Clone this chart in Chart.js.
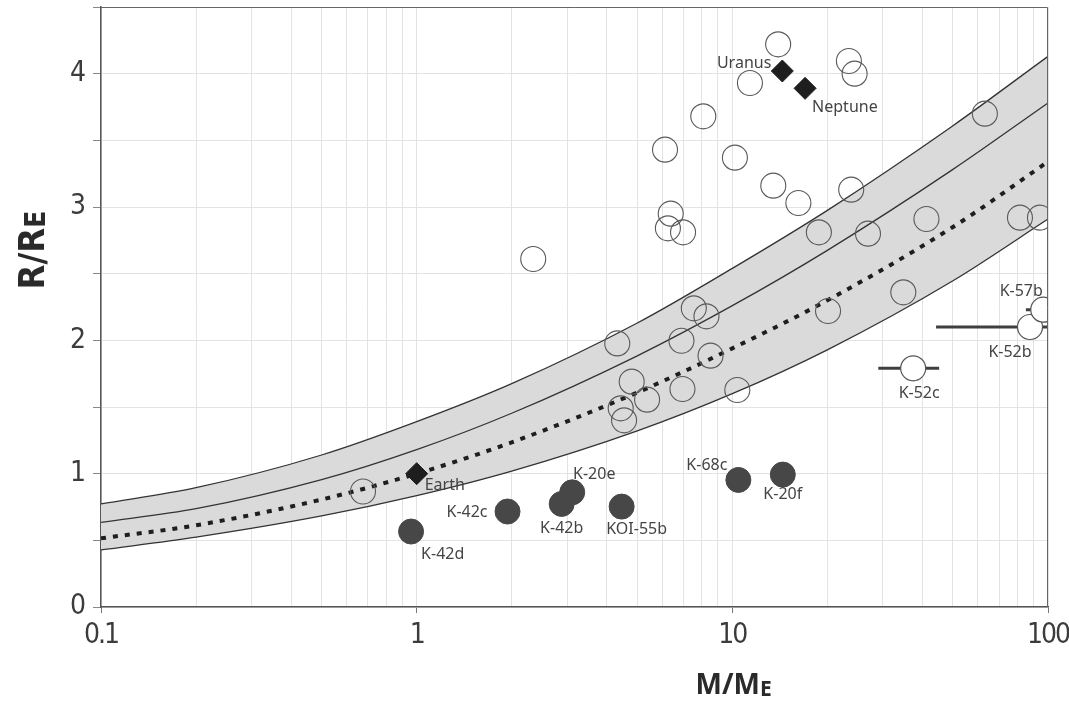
<!DOCTYPE html>
<html>
<head>
<meta charset="utf-8">
<script src="https://cdn.jsdelivr.net/npm/chart.js@4.4.0/dist/chart.umd.min.js"></script>
<style>
  body { margin: 0; background: #fff; }
  #wrap { width: 1069px; height: 705px; }
</style>
</head>
<body>
<div id="wrap"><canvas id="chart"></canvas></div>
<script>
// composition curves (R/RE against M/ME)
const curveMass = [0.1, 0.2, 0.5, 1, 2, 5, 10, 20, 50, 100];
const upperRadius = [0.773, 0.895, 1.14, 1.39, 1.675, 2.13, 2.54, 2.975, 3.61, 4.13];
const middleRadius = [0.635, 0.737, 0.955, 1.18, 1.453, 1.884, 2.26, 2.675, 3.282, 3.78];
const earthLikeRadius = [0.515, 0.613, 0.806, 1.0, 1.235, 1.609, 1.94, 2.30, 2.85, 3.34];
const lowerRadius = [0.428, 0.524, 0.683, 0.835, 1.019, 1.321, 1.60, 1.929, 2.447, 2.91];

// other exoplanets (open circles)
const openMass = [0.676, 2.34, 6.12, 6.38, 6.25, 6.98, 7.55, 8.28, 4.32, 6.90, 8.53, 4.80,
  5.37, 6.95, 10.37, 4.43, 4.54, 13.97, 11.37, 23.4, 24.4, 8.09, 10.19, 13.48, 16.19, 23.8,
  63.1, 18.8, 26.9, 41.2, 81.5, 94.3, 34.8, 20.1];
const openRadius = [0.866, 2.61, 3.43, 2.95, 2.84, 2.81, 2.24, 2.18, 1.977, 1.997, 1.885, 1.69,
  1.555, 1.635, 1.628, 1.49, 1.40, 4.22, 3.93, 4.095, 4.0, 3.68, 3.37, 3.16, 3.03, 3.13,
  3.70, 2.81, 2.80, 2.91, 2.92, 2.92, 2.36, 2.22];

// small Kepler planets (filled circles)
const smallNames = ['K-42d', 'K-42c', 'K-42b', 'K-20e', 'KOI-55b', 'K-68c', 'K-20f'];
const smallMass = [0.96, 1.94, 2.88, 3.11, 4.46, 10.45, 14.45];
const smallRadius = [0.566, 0.716, 0.773, 0.86, 0.753, 0.953, 0.993];

// solar system planets (diamonds)
const solarNames = ['Earth', 'Uranus', 'Neptune'];
const solarMass = [1.0, 14.4, 17.0];
const solarRadius = [1.0, 4.02, 3.89];

// planets with mass error bars
const errNames = ['K-52c', 'K-52b', 'K-57b'];
const errMass = [37.4, 87.7, 96.6];
const errRadius = [1.79, 2.10, 2.23];
const errMassLow = [29.0, 44.2, 85.1];
const errMassHigh = [45.2, 130, 130];

// axis ticks
const xTickLabels = ['0.1', '1', '10', '100'];
const xDecades = [0.1, 1, 10];
const xSignificands = [1, 2, 3, 4, 5, 6, 7, 8, 9];

// label placement: [dx, dy, align]
const labelPlace = {
  'K-42d': [10, 23, 'left'], 'K-42c': [-20, 1, 'right'], 'K-42b': [0, 25, 'center'],
  'K-20e': [22, -18, 'center'], 'KOI-55b': [15, 23, 'center'], 'K-68c': [-11, -14, 'right'],
  'K-20f': [0, 20, 'center'], 'Earth': [8, 12, 'left'], 'Uranus': [-11, -8, 'right'],
  'Neptune': [7, 19, 'left'], 'K-52c': [6, 25, 'center'], 'K-52b': [-20, 25, 'center'],
  'K-57b': [-22, -18, 'center']
};

const xGrid = [];
xDecades.forEach(function (d) {
  xSignificands.forEach(function (s) { xGrid.push(+(d * s).toPrecision(3)); });
});
xGrid.push(100);

function pts(xs, ys) {
  return xs.map(function (x, i) { return {x: x, y: ys[i]}; });
}

const tickFont = {family: '"Liberation Sans Narrow", "DejaVu Sans Condensed", sans-serif', size: 28};

// tighten the tick digits a little (the original uses a condensed face)
const tightTicks = {
  id: 'tightTicks',
  beforeDraw(chart) { chart.ctx.letterSpacing = '-2px'; },
  beforeDatasetsDraw(chart) { chart.ctx.letterSpacing = '0px'; }
};

const errorBars = {
  id: 'errorBars',
  beforeDatasetsDraw(chart) {
    const {ctx, chartArea: a, scales: {x, y}} = chart;
    ctx.save();
    ctx.beginPath();
    ctx.rect(a.left, a.top, a.right - a.left, a.bottom - a.top);
    ctx.clip();
    ctx.strokeStyle = '#3f3f3f';
    ctx.lineWidth = 3;
    errNames.forEach(function (n, i) {
      const py = y.getPixelForValue(errRadius[i]);
      ctx.beginPath();
      ctx.moveTo(x.getPixelForValue(errMassLow[i]), py);
      ctx.lineTo(x.getPixelForValue(errMassHigh[i]), py);
      ctx.stroke();
    });
    ctx.restore();
  }
};

const pointLabels = {
  id: 'pointLabels',
  afterDatasetsDraw(chart) {
    const {ctx, scales: {x, y}} = chart;
    ctx.save();
    ctx.font = '16px "Noto Sans", sans-serif';
    ctx.fillStyle = '#444';
    ctx.textBaseline = 'middle';
    function put(name, mx, ry) {
      const p = labelPlace[name];
      ctx.textAlign = p[2];
      ctx.fillText(name, x.getPixelForValue(mx) + p[0], y.getPixelForValue(ry) + p[1]);
    }
    smallNames.forEach(function (n, i) { put(n, smallMass[i], smallRadius[i]); });
    solarNames.forEach(function (n, i) { put(n, solarMass[i], solarRadius[i]); });
    errNames.forEach(function (n, i) { put(n, errMass[i], errRadius[i]); });
    ctx.restore();
  }
};

const frameAndTitles = {
  id: 'frameAndTitles',
  afterDraw(chart) {
    const {ctx, chartArea: a} = chart;
    ctx.save();
    ctx.letterSpacing = '0px';
    ctx.strokeStyle = '#666';
    ctx.lineWidth = 1;
    ctx.beginPath();
    ctx.moveTo(a.left, a.top + 0.5);
    ctx.lineTo(a.right - 0.5, a.top + 0.5);
    ctx.lineTo(a.right - 0.5, a.bottom);
    ctx.stroke();

    ctx.fillStyle = '#2a2a2a';
    ctx.textBaseline = 'alphabetic';
    ctx.textAlign = 'left';
    // x title
    ctx.font = 'bold 28px "Open Sans", sans-serif';
    const w1 = ctx.measureText('M/M').width;
    ctx.font = 'bold 21px "Open Sans", sans-serif';
    const w2 = ctx.measureText('E').width;
    const x0 = a.left + (a.right - a.left) * 0.668 - (w1 + w2) / 2;
    const base = a.bottom + 87;
    ctx.font = 'bold 28px "Open Sans", sans-serif';
    ctx.fillText('M/M', x0, base);
    ctx.font = 'bold 21px "Open Sans", sans-serif';
    ctx.fillText('E', x0 + w1, base + 2);
    // y title
    ctx.translate(a.left - 57, a.top + (a.bottom - a.top) * 0.405);
    ctx.rotate(-Math.PI / 2);
    ctx.font = 'bold 36px "Liberation Sans Narrow", "DejaVu Sans Condensed", sans-serif';
    const v1 = ctx.measureText('R/R').width;
    ctx.font = 'bold 28px "Liberation Sans Narrow", "DejaVu Sans Condensed", sans-serif';
    const v2 = ctx.measureText('E').width;
    ctx.font = 'bold 36px "Liberation Sans Narrow", "DejaVu Sans Condensed", sans-serif';
    ctx.fillText('R/R', -(v1 + v2) / 2, 0);
    ctx.font = 'bold 28px "Liberation Sans Narrow", "DejaVu Sans Condensed", sans-serif';
    ctx.fillText('E', -(v1 + v2) / 2 + v1, 1);
    ctx.restore();
  }
};

const curveStyle = {
  type: 'line', showLine: true, pointRadius: 0, pointHoverRadius: 0,
  cubicInterpolationMode: 'monotone', borderColor: '#333', borderWidth: 1.3
};
const dotStyle = {
  type: 'line', showLine: false, clip: 0
};

const config = {
  type: 'line',
  data: {
    datasets: [
      Object.assign({}, dotStyle, {
        label: 'with mass errors', data: pts(errMass, errRadius),
        pointRadius: 12.5, pointHoverRadius: 12.5, pointBorderWidth: 1.2,
        pointBorderColor: '#555', pointBackgroundColor: '#fff'
      }),
      Object.assign({}, dotStyle, {
        label: 'exoplanets', data: pts(openMass, openRadius),
        pointRadius: 12.5, pointHoverRadius: 12.5, pointBorderWidth: 1.1,
        pointBorderColor: '#5a5a5a', pointBackgroundColor: 'rgba(0,0,0,0)'
      }),
      Object.assign({}, dotStyle, {
        label: 'small Kepler planets', data: pts(smallMass, smallRadius),
        pointRadius: 12.5, pointHoverRadius: 12.5, pointBorderWidth: 1,
        pointBorderColor: '#474747', pointBackgroundColor: '#474747'
      }),
      Object.assign({}, dotStyle, {
        label: 'solar system', data: pts(solarMass, solarRadius),
        pointStyle: 'rectRot', pointRadius: 11, pointHoverRadius: 11, pointBorderWidth: 1,
        pointBorderColor: '#1e1e1e', pointBackgroundColor: '#1e1e1e'
      }),
      Object.assign({}, curveStyle, {
        label: 'Earth-like', data: pts(curveMass, earthLikeRadius),
        borderColor: '#1e1e1e', borderWidth: 4, borderDash: [5, 7], borderCapStyle: 'butt'
      }),
      Object.assign({}, curveStyle, { label: 'middle', data: pts(curveMass, middleRadius) }),
      Object.assign({}, curveStyle, { label: 'lower', data: pts(curveMass, lowerRadius) }),
      Object.assign({}, curveStyle, {
        label: 'upper', data: pts(curveMass, upperRadius),
        fill: {target: 6}, backgroundColor: '#dadada'
      })
    ]
  },
  options: {
    responsive: true,
    maintainAspectRatio: false,
    animation: false,
    layout: { autoPadding: false, padding: {left: 0, right: 21, top: 7, bottom: 0} },
    plugins: { legend: {display: false}, tooltip: {enabled: false} },
    scales: {
      x: {
        type: 'logarithmic',
        min: 0.1,
        max: 100,
        afterBuildTicks: function (scale) {
          scale.ticks = xGrid.map(function (v) { return {value: v}; });
        },
        afterFit: function (scale) {
          scale.height = 98;
          scale.paddingLeft = 0; scale.paddingRight = 0;
          scale.paddingTop = 0; scale.paddingBottom = 0;
        },
        border: {color: '#555', width: 1.5},
        grid: {
          color: '#e3e3e3',
          tickLength: 6,
          tickColor: function (c) {
            return c.tick && xTickLabels.indexOf(String(c.tick.value)) >= 0 ? '#777' : 'rgba(0,0,0,0)';
          }
        },
        ticks: {
          autoSkip: false, maxRotation: 0, padding: 6,
          font: tickFont, color: '#3c3c3c',
          callback: function (v) {
            return xTickLabels.indexOf(String(v)) >= 0 ? String(v) : '';
          }
        }
      },
      y: {
        min: 0,
        max: 4.5,
        afterFit: function (scale) {
          scale.width = 101;
          scale.paddingLeft = 0; scale.paddingRight = 0;
          scale.paddingTop = 0; scale.paddingBottom = 0;
        },
        border: {color: '#555', width: 1.5},
        grid: { color: '#e3e3e3', tickLength: 8, tickColor: '#888' },
        ticks: {
          stepSize: 0.5, padding: 9, font: tickFont, color: '#3c3c3c',
          callback: function (v) { return v % 1 === 0 ? String(v) : ''; }
        }
      }
    }
  },
  plugins: [tightTicks, errorBars, pointLabels, frameAndTitles]
};

new Chart(document.getElementById('chart'), config);
</script>
</body>
</html>
